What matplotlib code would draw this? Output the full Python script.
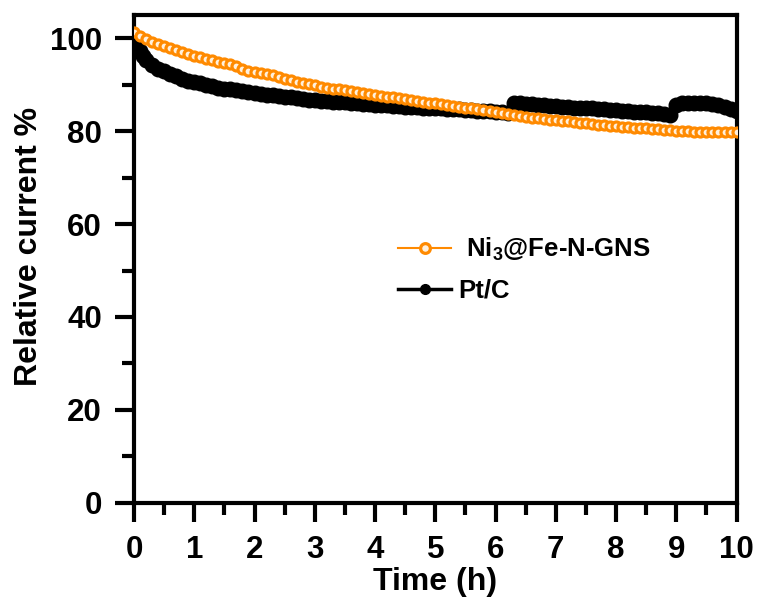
import numpy as np
import matplotlib
matplotlib.use("Agg")
import matplotlib.pyplot as plt
from matplotlib.ticker import MultipleLocator

plt.rcParams['font.family'] = ['Liberation Sans', 'DejaVu Sans']
plt.rcParams['font.weight'] = 'bold'
plt.rcParams['mathtext.fontset'] = 'custom'
plt.rcParams['mathtext.rm'] = 'Liberation Sans:bold'
plt.rcParams['mathtext.bf'] = 'Liberation Sans:bold'
plt.rcParams['mathtext.default'] = 'rm'

# Ni3@Fe-N-GNS, sampled every 0.1 h
time_ni = np.round(np.arange(101) * 0.1, 2)
current_ni = [
    101.3, 100.6, 99.9, 99.3, 98.8, 98.3, 97.9, 97.4, 97.0, 96.6,
    96.2, 95.9, 95.6, 95.3, 95.0, 94.7, 94.5, 94.1, 93.5, 93.0,
    92.7, 92.5, 92.3, 92.0, 91.6, 91.3, 91.0, 90.7, 90.4, 90.1,
    89.9, 89.6, 89.4, 89.2, 89.0, 88.8, 88.6, 88.4, 88.2, 88.0,
    87.8, 87.6, 87.4, 87.3, 87.1, 86.9, 86.7, 86.5, 86.3, 86.1,
    86.0, 85.8, 85.6, 85.4, 85.3, 85.1, 84.9, 84.7, 84.5, 84.3,
    84.1, 83.9, 83.7, 83.5, 83.3, 83.1, 82.9, 82.8, 82.6, 82.5,
    82.4, 82.2, 82.1, 82.0, 81.8, 81.7, 81.6, 81.4, 81.3, 81.2,
    81.1, 81.0, 80.9, 80.8, 80.7, 80.6, 80.5, 80.4, 80.3, 80.2,
    80.1, 80.0, 80.0, 79.9, 79.9, 79.9, 79.9, 79.9, 79.9, 79.9,
    79.9,
]

# Pt/C
time_pt = [0.0, 0.02, 0.05, 0.1, 0.15, 0.2] + list(np.round(np.arange(3, 101) * 0.1, 2))
current_pt = [
    100.0, 99.3, 98.3, 97.2, 96.2, 95.4,
    94.3, 93.5, 92.9, 92.3, 91.8, 91.3, 90.9,
    90.6, 90.3, 90.0, 89.7, 89.4, 89.2, 89.0, 88.8, 88.6, 88.4,
    88.2, 88.0, 87.9, 87.7, 87.5, 87.4, 87.3, 87.1, 87.0, 86.8,
    86.7, 86.6, 86.5, 86.4, 86.3, 86.2, 86.1, 86.0, 85.9, 85.8,
    85.7, 85.6, 85.6, 85.5, 85.4, 85.3, 85.2, 85.2, 85.1, 85.0,
    85.0, 84.9, 84.8, 84.8, 84.7, 84.6, 84.5, 84.4, 84.4, 84.3,
    84.2, 84.1, 84.0, 86.0, 86.1, 85.9, 85.8, 85.7, 85.6, 85.5,
    85.4, 85.3, 85.2, 85.1, 85.0, 85.0, 84.9, 84.8, 84.7, 84.6,
    84.5, 84.4, 84.3, 84.2, 84.1, 84.2, 84.0, 83.9, 83.8, 83.6,
    85.6, 86.0, 86.0, 86.1, 86.0, 86.0, 85.9, 85.7, 85.3, 84.8,
    84.3,
]

orange = '#FF8A00'

fig = plt.figure(figsize=(7.57, 6.05), dpi=100)
ax = fig.add_axes([0.177, 0.169, 0.796, 0.806])

ax.plot(time_pt, current_pt, '-o', color='black', lw=2.5, ms=10.5,
        mfc='black', mec='black', label='Pt/C', zorder=2)
ax.plot(time_ni, current_ni, '-o', color=orange, lw=1.5, ms=6.5,
        mfc='#FFF0DC', mec=orange, mew=2.3, label=' Ni$_3$@Fe-N-GNS', zorder=3)

ax.set_xlim(0, 10)
ax.set_ylim(0, 105)
ax.xaxis.set_major_locator(MultipleLocator(1))
ax.xaxis.set_minor_locator(MultipleLocator(0.5))
ax.yaxis.set_major_locator(MultipleLocator(20))
ax.yaxis.set_minor_locator(MultipleLocator(10))
ax.tick_params(which='both', direction='out', width=3, top=False, right=False,
               labelsize=22.5)
ax.tick_params(which='major', length=14)
ax.tick_params(axis='x', which='major', pad=9)
ax.tick_params(axis='y', which='major', pad=9)
ax.tick_params(which='minor', length=8.5)
for s in ax.spines.values():
    s.set_linewidth(3)

ax.set_xlabel('Time (h)', fontsize=23, fontweight='bold', labelpad=2)
ax.set_ylabel('Relative current %', fontsize=23, fontweight='bold')
ax.yaxis.set_label_coords(-0.15, 0.525)

handles, labels = ax.get_legend_handles_labels()
leg = fig.legend(handles[::-1], labels[::-1], loc='center left',
                 bbox_to_anchor=(0.526, 0.555), frameon=False, fontsize=18.5,
                 handlelength=2.05, handletextpad=0.3, labelspacing=0.6,
                 borderpad=0, borderaxespad=0)
for h in leg.legend_handles:
    h.set_markersize(7)

fig.savefig('out.png', dpi=100)
